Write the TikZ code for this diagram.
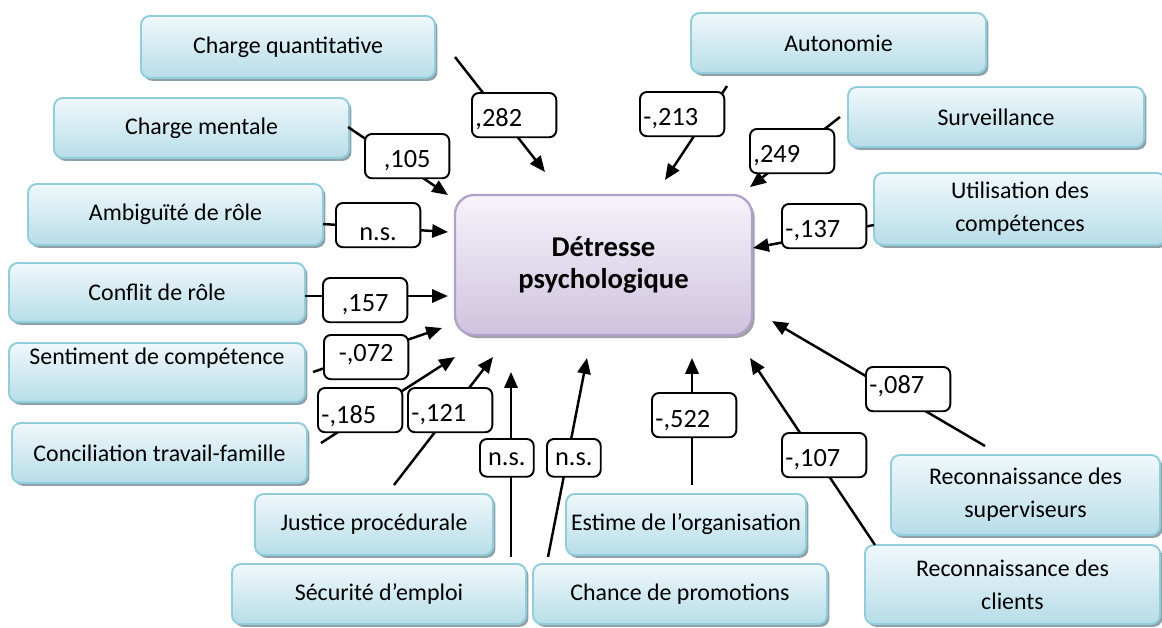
\documentclass[tikz,border=0pt]{standalone}
\usepackage{fontspec}
\setmainfont{Carlito}
\usetikzlibrary{arrows.meta,shadows}
\definecolor{boxtop}{RGB}{240,248,251}
\definecolor{boxbot}{RGB}{183,221,232}
\definecolor{boxline}{RGB}{146,205,220}
\definecolor{boxshade}{RGB}{142,160,168}
\definecolor{midtop}{RGB}{246,243,250}
\definecolor{midbot}{RGB}{206,195,222}
\definecolor{midline}{RGB}{178,161,199}
\definecolor{midshade}{RGB}{160,160,168}
\tikzset{
  sz/.style 2 args={minimum width=#1*0.02cm, minimum height=#2*0.02cm},
  fb/.style  ={draw=boxline, line width=1.1pt, rounded corners=5pt, top color=boxtop, bottom color=boxbot,
               inner sep=0pt, align=center, font=\fontsize{13.6}{18.7}\selectfont,
               drop shadow={opacity=1, fill=boxshade, shadow xshift=1.4pt, shadow yshift=-1.6pt}},
  mb/.style  ={draw=midline, line width=1.3pt, rounded corners=11pt, top color=midtop, bottom color=midbot,
               inner sep=0pt, align=center, font=\fontsize{16.3}{18.2}\selectfont\bfseries,
               drop shadow={opacity=1, fill=midshade, shadow xshift=1.5pt, shadow yshift=-1.7pt}},
  cf/.style  ={draw=black, line width=1.1pt, rounded corners=4pt, fill=white, anchor=north west,
               minimum width=48pt, minimum height=25.2pt, text width=44pt, inner xsep=2pt, inner ysep=0pt,
               text height=14pt, text depth=1pt, align=left, font=\fontsize{15}{17}\selectfont},
  cfc/.style ={cf, align=center},
  cfs/.style ={cf, minimum width=30.6pt, minimum height=21.5pt, text width=27pt, inner xsep=1.8pt,
               text height=10pt, align=center},
  ptr/.style ={draw=black, line width=1.4pt, -{Triangle[length=9pt,width=7.5pt]}},
}
\begin{document}
\begin{tikzpicture}[x=0.02cm,y=-0.02cm]
  \useasboundingbox (0,0) rectangle (1162,627);
  % facteurs
  \node[fb, sz={294}{62}] (cq) at (288,47) {Charge quantitative};
  \node[fb, sz={295}{60}] (au) at (838.5,43) {Autonomie};
  \node[fb, sz={296}{60}] (sv) at (996,117) {Surveillance};
  \node[fb, sz={292}{72}] (ut) at (1020,209) {Utilisation des\\compétences};
  \node[fb, sz={295}{60}] (cm) at (201.5,128) {Charge mentale};
  \node[fb, sz={295}{61}] (am) at (175.5,214.5) {Ambiguïté de rôle};
  \node[fb, sz={296}{59}] (cr) at (157,292.5) {Conflit de rôle};
  \node[fb, sz={296}{59}] (sc) at (157,372.5) {Sentiment de compétence\\\mbox{}};
  \node[fb, sz={295}{60}] (ct) at (159.5,453) {Conciliation travail-famille};
  \node[fb, sz={238}{61}] (jp) at (374,524.5) {Justice procédurale};
  \node[fb, sz={294}{60}] (se) at (379,594) {Sécurité d’emploi};
  \node[fb, sz={294}{60}] (cp) at (680,594) {Chance de promotions};
  \node[fb, sz={240}{61}] (eo) at (686,524.5) {Estime de l’organisation};
  \node[fb, sz={269}{80}] (rs) at (1025.5,495) {Reconnaissance des\\superviseurs};
  \node[fb, sz={295}{79}] (rc) at (1012.5,584.5) {Reconnaissance des\\clients};
  \node[mb, sz={297}{140}] (dp) at (603.5,265) {Détresse\\psychologique};
  % fleches
  \coordinate (cq-s) at (455,57);  \coordinate (cq-t) at (545,172);
  \coordinate (au-s) at (727,86);  \coordinate (au-t) at (665,180);
  \coordinate (cm-s) at (348,127); \coordinate (cm-t) at (448,195);
  \coordinate (am-s) at (323,224); \coordinate (am-t) at (448,232);
  \coordinate (cr-s) at (305,296); \coordinate (cr-t) at (448,296);
  \coordinate (sc-s) at (313,372); \coordinate (sc-t) at (442,328);
  \coordinate (ct-s) at (321,443); \coordinate (ct-t) at (455,357);
  \coordinate (jp-s) at (394,485); \coordinate (jp-t) at (493,357);
  \coordinate (se-s) at (511,557); \coordinate (se-t) at (511,372);
  \coordinate (cp-s) at (548,557); \coordinate (cp-t) at (587,358);
  \coordinate (eo-s) at (692,485); \coordinate (eo-t) at (692,358);
  \coordinate (rc-s) at (875,545); \coordinate (rc-t) at (750,358);
  \coordinate (rs-s) at (985,446); \coordinate (rs-t) at (772,321);
  \coordinate (ut-s) at (874,225); \coordinate (ut-t) at (753,248);
  \coordinate (sv-s) at (840,117); \coordinate (sv-t) at (750,187);
  \draw[ptr] (cq-s) -- (cq-t);
  \draw[ptr] (au-s) -- (au-t);
  \draw[ptr] (cm-s) -- (cm-t);
  \draw[ptr] (am-s) -- (am-t);
  \draw[ptr] (cr-s) -- (cr-t);
  \draw[ptr] (sc-s) -- (sc-t);
  \draw[ptr] (ct-s) -- (ct-t);
  \draw[ptr] (jp-s) -- (jp-t);
  \draw[ptr] (se-s) -- (se-t);
  \draw[ptr] (cp-s) -- (cp-t);
  \draw[ptr] (eo-s) -- (eo-t);
  \draw[ptr] (rc-s) -- (rc-t);
  \draw[ptr] (rs-s) -- (rs-t);
  \draw[ptr] (ut-s) -- (ut-t);
  \draw[ptr] (sv-s) -- (sv-t);
  % coefficients
  \node[cf]  (cq-k) at (471,92)  {,282};
  \node[cf]  (au-k) at (639,91)  {-,213};
  \node[cfc] (cm-k) at (364,133) {,105};
  \node[cfc, text height=18pt] (am-k) at (335,202) {n.s.};
  \node[cf]  (sv-k) at (749,128) {,249};
  \node[cf]  (ut-k) at (781,203) {-,137};
  \node[cfc] (cr-k) at (322,277) {,157};
  \node[cfc, text height=8pt, text depth=3pt] (sc-k) at (323,334) {-,072};
  \node[cf, text height=16pt]  (ct-k) at (317,387) {-,185};
  \node[cf]  (jp-k) at (407,387) {-,121};
  \node[cfs] (se-k) at (479,438) {n.s.};
  \node[cfs] (cp-k) at (546,438) {n.s.};
  \node[cf, text height=15pt]  (eo-k) at (651,392) {-,522};
  \node[cf, inner xsep=0.3pt] (rc-k) at (781,432) {-,107};
  \node[cf, text height=8pt, text depth=3pt]  (rs-k) at (865,366) {-,087};
\end{tikzpicture}
\end{document}
